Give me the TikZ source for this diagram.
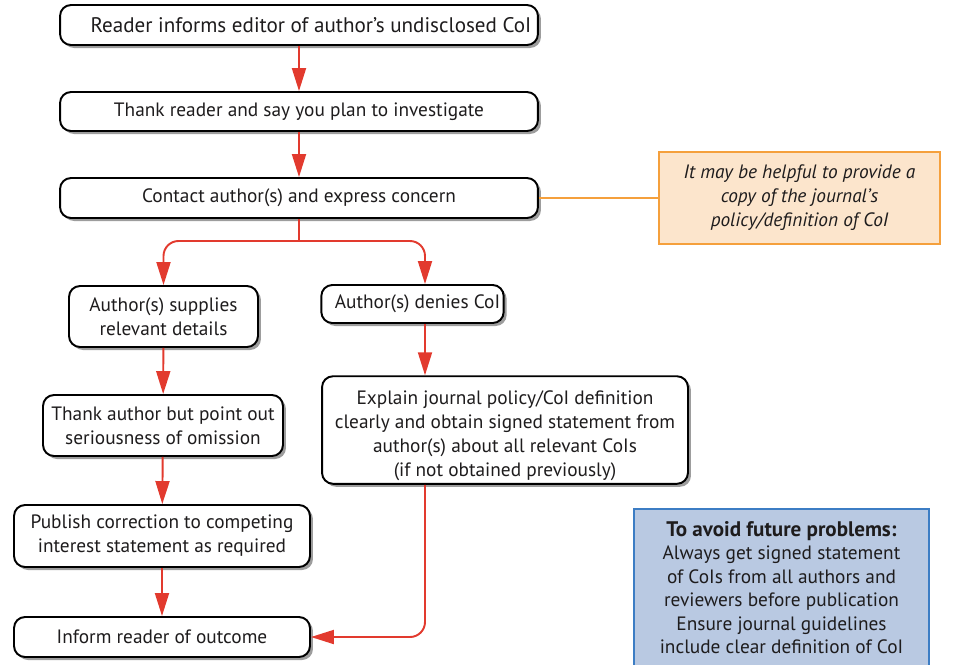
\documentclass[tikz,border=0pt]{standalone}
\usepackage{fontspec}
\setmainfont{PT Sans}
\usetikzlibrary{arrows.meta,shadows}
\definecolor{pfeil}{RGB}{226,58,46}
\definecolor{schrift}{RGB}{30,28,29}
\definecolor{notiz}{RGB}{245,160,60}
\definecolor{notiz-fill}{RGB}{252,229,204}
\definecolor{tipp}{RGB}{60,125,196}
\definecolor{tipp-fill}{RGB}{185,201,226}

\tikzset{
	box/.style={draw=black, line width=1.1pt, fill=white, rounded corners=0.22cm, align=center,
		text=schrift, inner sep=2pt, drop shadow={shadow xshift=0.06cm, shadow yshift=-0.06cm, fill=black!55, opacity=0.7}},
	flow/.style={pfeil, line width=1.1pt, -{Triangle[length=0.46cm,width=0.28cm]}},
	link/.style={pfeil, line width=1.1pt},
}

\begin{document}
\begin{tikzpicture}[x=0.02cm, y=-0.02cm, font=\fontsize{11}{13.6}\selectfont]

	\useasboundingbox (0,0) rectangle (953,664);

	% main column
	\node[box, minimum width=9.56cm, minimum height=0.8cm, font=\fontsize{12}{13.6}\selectfont] (reader) at (299,25) {\hspace*{0.48cm}Reader informs editor of author’s undisclosed CoI};
	\node[box, minimum width=9.56cm, minimum height=0.78cm] (thank) at (299,111.5) {Thank reader and say you plan to investigate};
	\node[box, minimum width=9.56cm, minimum height=0.8cm] (contact) at (299,198) {Contact author(s) and express concern};

	% left branch
	\node[box, minimum width=3.78cm, minimum height=1.22cm] (supplies) at (163.5,316.5) {Author(s) supplies\\relevant details};
	\node[box, minimum width=4.8cm, minimum height=1.22cm] (omission) at (163,425.5) {Thank author but point out\\seriousness of omission};
	\node[box, minimum width=5.92cm, minimum height=1.24cm] (publish) at (162,536) {Publish correction to competing\\interest statement as required};
	\node[box, minimum width=5.92cm, minimum height=0.8cm] (inform) at (162,637) {Inform reader of outcome};

	% right branch
	\node[box, minimum width=3.62cm, minimum height=0.76cm] (denies) at (412.5,304) {\hspace*{0.2cm}Author(s) denies CoI};
	\node[box, minimum width=7.32cm, minimum height=2.08cm] (explain) at (505,430) {\rule{0pt}{14pt}Explain journal policy/CoI definition\\clearly and obtain signed statement from\\author(s) about all relevant CoIs\\(if not obtained previously)};

	% side notes
	\node[draw=notiz, fill=notiz-fill, line width=1.2pt, minimum width=5.62cm, minimum height=1.84cm, align=center, text=schrift, font=\fontsize{11}{13.6}\selectfont\itshape] (note) at (799.5,198) {It may be helpful to provide a\\copy of the journal’s\\policy/definition of CoI};
	\node[draw=tipp, fill=tipp-fill, line width=1.1pt, minimum width=5.9cm, align=center, text=schrift, anchor=north, inner xsep=3pt, inner ysep=7pt, font=\fontsize{11}{13.4}\selectfont] (avoid) at (781.5,508) {{\fontsize{12}{13.4}\selectfont\bfseries To avoid future problems:}\\Always get signed statement\\of CoIs from all authors and\\reviewers before publication\\Ensure journal guidelines\\include clear definition of CoI\\[8pt]};

	\coordinate (split) at (299,241);
	\coordinate (dcol) at (425,0);

	\draw[flow] (reader) -- (thank);
	\draw[flow] (thank) -- (contact);
	\draw[link] (contact) -- (split);
	\draw[flow, rounded corners=0.3cm] (split) -| (supplies.north);
	\draw[flow, rounded corners=0.3cm] (split) -| (denies.north -| dcol);
	\draw[flow] (supplies) -- (omission);
	\draw[flow] (omission) -- (publish);
	\draw[flow] (publish) -- (inform);
	\draw[flow] (denies.south -| dcol) -- (explain.north -| dcol);
	\draw[flow, rounded corners=0.3cm] (explain.south -| dcol) |- (inform.east);
	\draw[notiz, line width=1.2pt] (contact) -- (note);

\end{tikzpicture}
\end{document}
